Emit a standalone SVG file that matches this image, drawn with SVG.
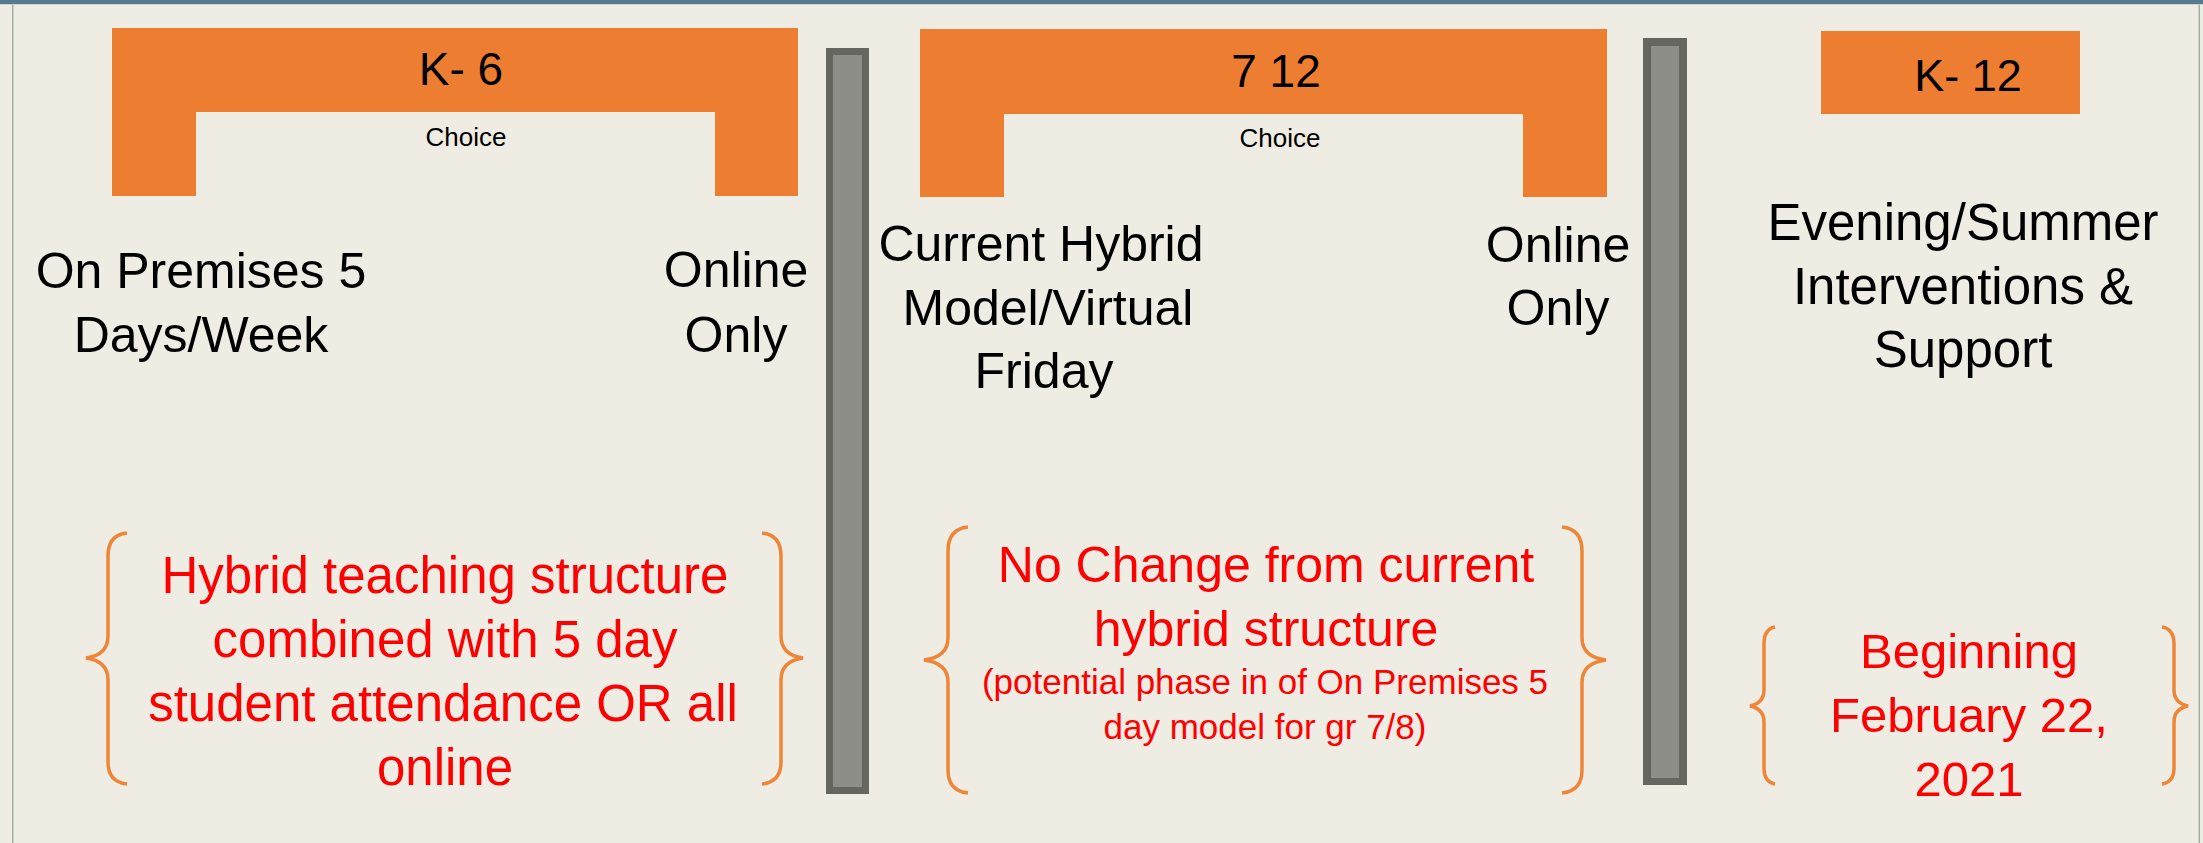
<svg xmlns="http://www.w3.org/2000/svg" width="2203" height="843" viewBox="0 0 2203 843">
<style>
.t{font-family:"Liberation Sans",Arial,sans-serif;fill:#000;text-anchor:middle}
.r{font-family:"Liberation Sans",Arial,sans-serif;fill:#FF0000;text-anchor:middle}
.org{fill:#ED7D31}
.brace{fill:none;stroke:#EE8537;stroke-width:3.5;stroke-linejoin:miter}
.barO{fill:#666660}
.barI{fill:#8E8E88}
</style>
<rect x="0" y="0" width="2203" height="843" fill="#EFECE4"/>
<rect x="0" y="0" width="2203" height="4" fill="#557A8E"/>
<rect x="0" y="4" width="2203" height="1" fill="#C9D2D4"/>
<rect x="12" y="5" width="1.5" height="838" fill="#9DB59F"/>
<rect x="2198.5" y="5" width="1.5" height="838" fill="#9DB59F"/>

<g id="k6">
<path class="org" d="M112,28 H798 V196 H715 V112 H196 V196 H112 Z"/>
<text class="t" x="461" y="85" font-size="46">K- 6</text>
<text class="t" x="466" y="146" font-size="26">Choice</text>
</g>

<g id="k6-onprem">
<text class="t" x="201" y="288" font-size="50">On Premises 5</text>
<text class="t" x="201" y="352" font-size="50">Days/Week</text>
</g>

<g id="k6-online">
<text class="t" x="736" y="287" font-size="50">Online</text>
<text class="t" x="736" y="352" font-size="50">Only</text>
</g>

<g id="divider1">
<rect class="barO" x="826" y="48" width="43" height="746"/>
<rect class="barI" x="833" y="55" width="29" height="732"/>
</g>

<g id="g712">
<path class="org" d="M920,29 H1607 V197 H1523 V114 H1004 V197 H920 Z"/>
<text class="t" x="1276" y="87" font-size="46">7 12</text>
<text class="t" x="1280" y="147" font-size="26">Choice</text>
</g>

<g id="g712-hybrid">
<text class="t" x="1041" y="261" font-size="50">Current Hybrid</text>
<text class="t" x="1048" y="325" font-size="50">Model/Virtual</text>
<text class="t" x="1044" y="388" font-size="50">Friday</text>
</g>

<g id="g712-online">
<text class="t" x="1558" y="262" font-size="50">Online</text>
<text class="t" x="1558" y="325" font-size="50">Only</text>
</g>

<g id="divider2">
<rect class="barO" x="1643" y="38" width="44" height="747"/>
<rect class="barI" x="1651" y="46" width="28" height="732"/>
</g>

<g id="k12">
<rect class="org" x="1821" y="31" width="259" height="83"/>
<text class="t" x="1968" y="91" font-size="45">K- 12</text>
</g>

<g id="k12-interventions">
<text class="t" x="1963" y="240" font-size="51">Evening/Summer</text>
<text class="t" x="1963" y="304" font-size="51">Interventions &amp;</text>
<text class="t" x="1963" y="367" font-size="51">Support</text>
</g>

<g id="note-k6">
<path class="brace" d="M127,533 Q108,535 108,556 L108,636 Q108,655 86,658 Q108,661 108,680 L108,762 Q108,782 127,784"/>
<path class="brace" d="M762,533 Q781,535 781,556 L781,636 Q781,655 803,658 Q781,661 781,680 L781,762 Q781,782 762,784"/>
<text class="r" x="445" y="593" font-size="51">Hybrid teaching structure</text>
<text class="r" x="445" y="657" font-size="51">combined with 5 day</text>
<text class="r" x="443" y="721" font-size="51">student attendance OR all</text>
<text class="r" x="445" y="785" font-size="51">online</text>
</g>

<g id="note-712">
<path class="brace" d="M968,527 Q948,529 948,551 L948,638 Q948,657 924,660 Q948,663 948,682 L948,770 Q948,791 968,793"/>
<path class="brace" d="M1562,527 Q1582,529 1582,551 L1582,638 Q1582,657 1606,660 Q1582,663 1582,682 L1582,770 Q1582,791 1562,793"/>
<text class="r" x="1266" y="582" font-size="50">No Change from current</text>
<text class="r" x="1266" y="646" font-size="50">hybrid structure</text>
<text class="r" x="1265" y="694" font-size="35">(potential phase in of On Premises 5</text>
<text class="r" x="1265" y="739" font-size="35">day model for gr 7/8)</text>
</g>

<g id="note-k12">
<path class="brace" d="M1775,627 Q1764,629 1764,644 L1764,690 Q1764,703 1750,706 Q1764,709 1764,722 L1764,768 Q1764,782 1775,784"/>
<path class="brace" d="M2162,627 Q2174,629 2174,644 L2174,690 Q2174,703 2188,706 Q2174,709 2174,722 L2174,768 Q2174,782 2162,784"/>
<text class="r" x="1969" y="668" font-size="49">Beginning</text>
<text class="r" x="1969" y="732" font-size="49">February 22,</text>
<text class="r" x="1969" y="796" font-size="49">2021</text>
</g>
</svg>
